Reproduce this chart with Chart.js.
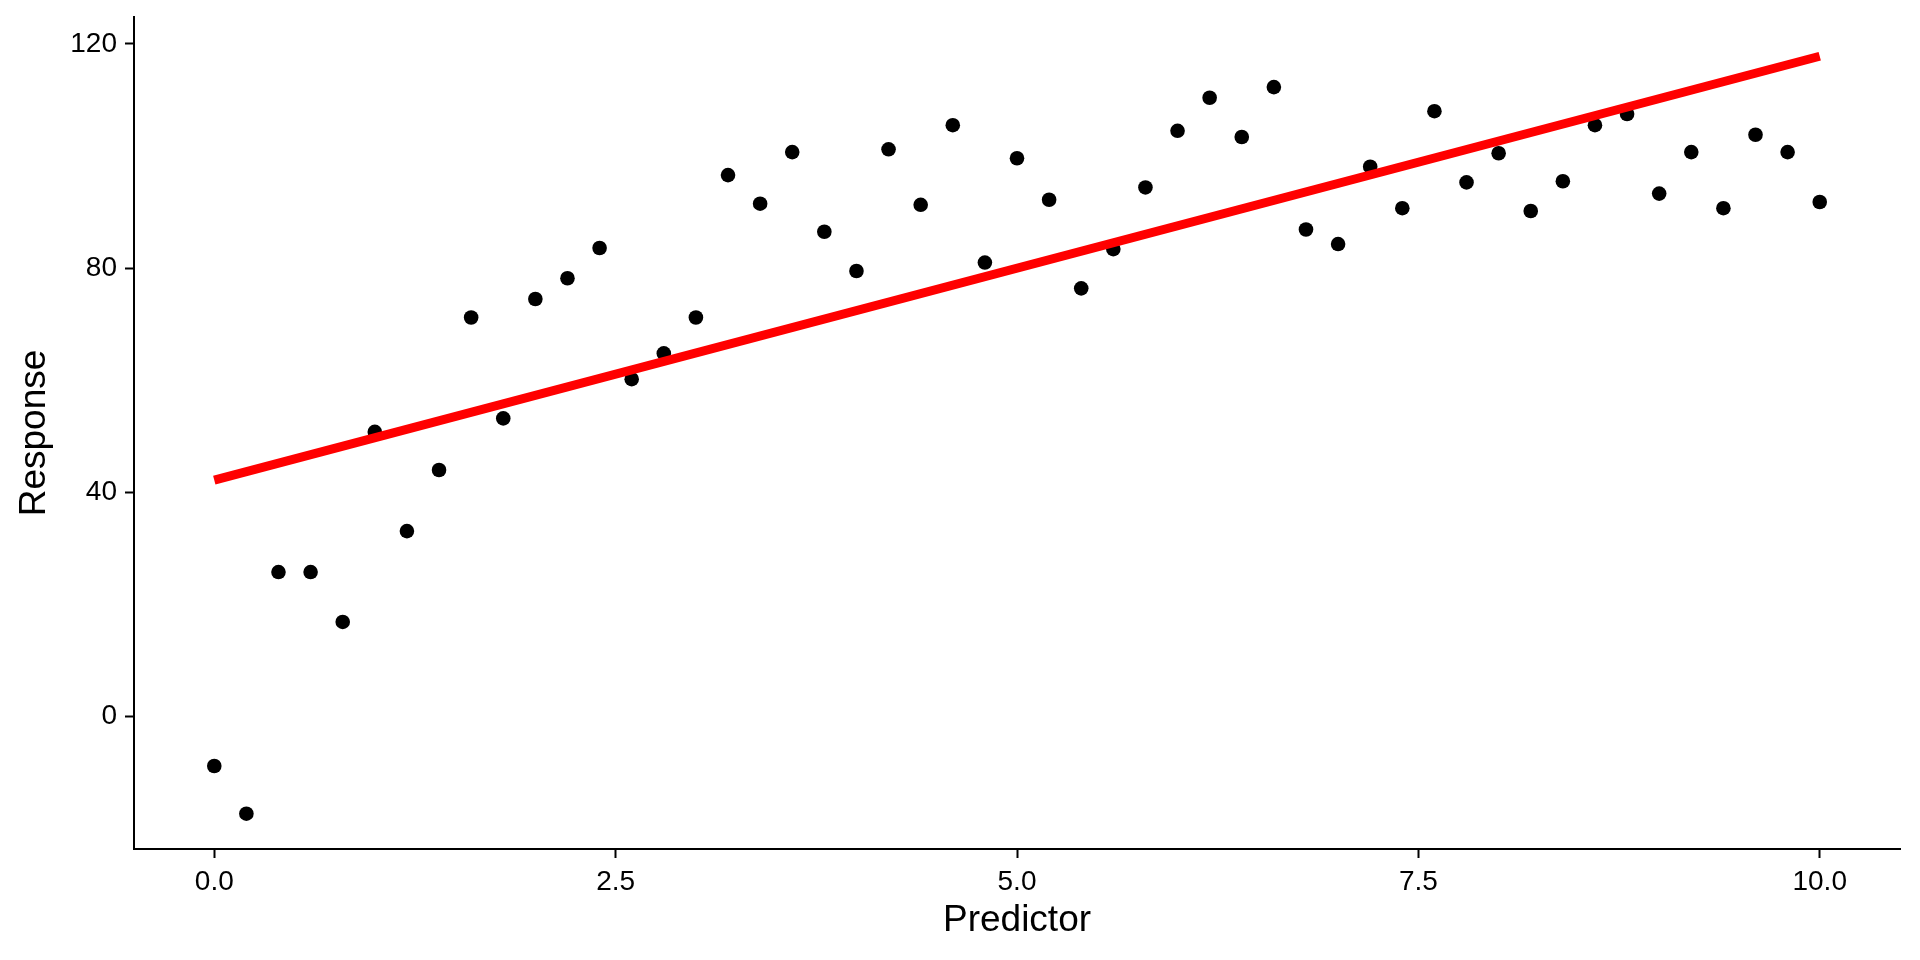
<!DOCTYPE html>
<html>
<head>
<meta charset="utf-8">
<script src="https://cdn.jsdelivr.net/npm/chart.js@4.4.0/dist/chart.umd.min.js"></script>
<style>
  html, body { margin: 0; padding: 0; background: #fff; }
  #wrap { width: 1920px; height: 960px; }
</style>
</head>
<body>
<div id="wrap"><canvas id="plot" width="1920" height="960"></canvas></div>
<script>
// data
const predictor = [0, 0.2, 0.4, 0.6, 0.8, 1.0, 1.2, 1.4, 1.6, 1.8,
  2.0, 2.2, 2.4, 2.6, 2.8, 3.0, 3.2, 3.4, 3.6, 3.8,
  4.0, 4.2, 4.4, 4.6, 4.8, 5.0, 5.2, 5.4, 5.6, 5.8,
  6.0, 6.2, 6.4, 6.6, 6.8, 7.0, 7.2, 7.4, 7.6, 7.8,
  8.0, 8.2, 8.4, 8.6, 8.8, 9.0, 9.2, 9.4, 9.6, 9.8, 10.0]
const response = [-8.8, -17.3, 25.8, 25.8, 16.9, 50.8, 33.1, 44.0, 71.2, 53.2,
  74.5, 78.2, 83.6, 60.2, 64.8, 71.2, 96.6, 91.5, 100.7, 86.5,
  79.5, 101.2, 91.3, 105.5, 81.0, 99.6, 92.2, 76.4, 83.4, 94.4,
  104.5, 110.4, 103.4, 112.3, 86.9, 84.3, 98.1, 90.7, 108.0, 95.3,
  100.5, 90.2, 95.5, 105.5, 107.5, 93.3, 100.7, 90.7, 103.8, 100.7, 91.8]
const fitX = [0, 10]
const fitY = [42.2, 117.8]
const xTicks = [0, 2.5, 5, 7.5, 10]
const yTicks = [0, 40, 80, 120]

const FONT = "'Liberation Sans', Arial, Helvetica, sans-serif"

const points = predictor.map((x, i) => ({x: x, y: response[i]}))
const fit = fitX.map((x, i) => ({x: x, y: fitY[i]}))

const axisCommon = {
    grid: {drawOnChartArea: false, drawTicks: true, tickLength: 9, tickWidth: 2, tickColor: '#000'},
    border: {display: true, color: '#000', width: 2},
}

new Chart(document.getElementById('plot'), {
    type: 'scatter',
    data: {
        datasets: [
            {
                type: 'line',
                label: 'fit',
                data: fit,
                borderColor: '#ff0000',
                borderWidth: 9,
                pointRadius: 0,
                borderCapStyle: 'butt',
                order: 0,
            },
            {
                label: 'obs',
                data: points,
                backgroundColor: '#000',
                borderWidth: 0,
                pointRadius: 7.3,
                pointHoverRadius: 7.3,
                order: 1,
            }
        ]
    },
    options: {
        responsive: false,
        animation: false,
        events: [],
        layout: {padding: {left: 0, right: 20, top: 17, bottom: 0}},
        plugins: {legend: {display: false}, tooltip: {enabled: false}},
        scales: {
            x: {
                ...axisCommon,
                type: 'linear',
                min: -0.5,
                max: 10.5,
                afterBuildTicks: s => { s.ticks = xTicks.map(v => ({value: v})) },
                afterFit: s => { s.height = 111; s.paddingLeft = 0; s.paddingRight = 0 },
                ticks: {
                    color: '#000', padding: 7,
                    font: {family: FONT, size: 28},
                    callback: v => Number(v).toFixed(1),
                },
                title: {display: true, text: 'Predictor', color: '#000',
                    font: {family: FONT, size: 37}, padding: {top: 0, bottom: 17}},
            },
            y: {
                ...axisCommon,
                type: 'linear',
                min: -23.6,
                max: 124.8,
                afterBuildTicks: s => { s.ticks = yTicks.map(v => ({value: v})) },
                afterFit: s => { s.width = 134; s.paddingTop = 0; s.paddingBottom = 0 },
                ticks: {
                    color: '#000', padding: 8,
                    font: {family: FONT, size: 28},
                },
                title: {display: true, text: 'Response', color: '#000',
                    font: {family: FONT, size: 37}, padding: {top: 13, bottom: 0}},
            }
        }
    }
})
</script>
</body>
</html>
